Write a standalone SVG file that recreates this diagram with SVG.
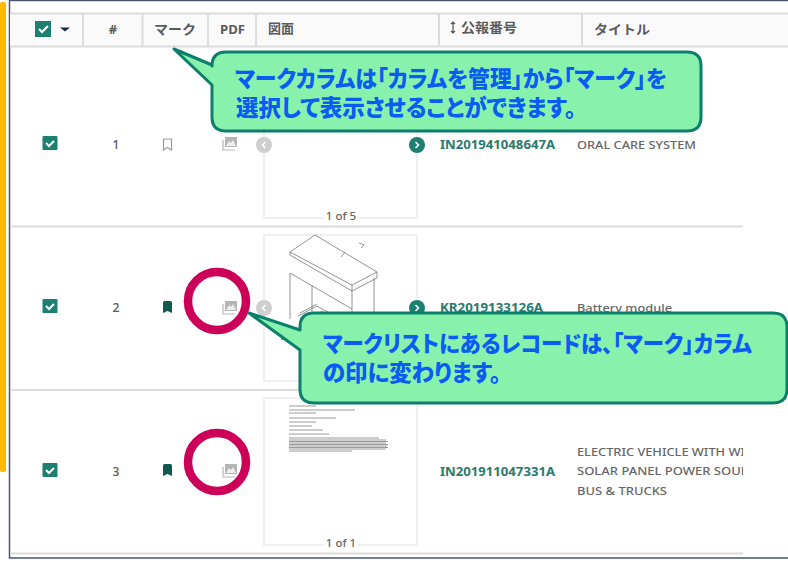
<svg xmlns="http://www.w3.org/2000/svg" width="788" height="562" viewBox="0 0 788 562">
<style>
.hd{font:700 13px "Noto Sans","Noto Sans CJK JP",sans-serif;fill:#5a5a5a}
.num{font:500 12px "Noto Sans",sans-serif;fill:#555;text-anchor:middle}
.pn{font:700 11.5px "Noto Sans",sans-serif;fill:#2a7a6c}
.ti{font:500 11.5px "Noto Sans",sans-serif;fill:#666}
.pg{font:500 11.5px "Noto Sans",sans-serif;fill:#666;text-anchor:middle}
.call{font:900 22.5px "Noto Sans CJK JP",sans-serif;fill:#0b5cf2;font-feature-settings:"palt"}
.bub{fill:#88f2ac;stroke:#0a7f6c;stroke-width:3;stroke-linejoin:round}
.sep{stroke:#dcdcdc;stroke-width:2;fill:none}
.card{fill:#fff;stroke:#f0f0f0;stroke-width:2}
.ring{fill:none;stroke:#cc0058;stroke-width:8.5}
.cb{fill:#1c8071}
.ck{fill:none;stroke:#fff;stroke-width:2}
.mk{fill:#0f5a4d}
.mo{fill:none;stroke:#999;stroke-width:1.2}
.pdf{fill:#b5b5b5}
.pdfb{fill:none;stroke:#b5b5b5;stroke-width:1.2}
.prev{fill:#cfcfcf}
.next{fill:#1c8071}
.chev{fill:none;stroke:#fff;stroke-width:1.5}
.sk{fill:none;stroke:#777;stroke-width:.8}
.dl{stroke:#9a9a9a;fill:none;stroke-width:1}
</style>
<defs>
<clipPath id="clipT"><rect x="570" y="430" width="173" height="80"/></clipPath>
<filter id="soft" x="-5%" y="-5%" width="110%" height="110%"><feGaussianBlur stdDeviation=".35"/></filter>
<g id="pdfI"><rect class="pdf" x="-5" y="-7" width="12" height="10"/><path class="pdfb" d="M-7-4V6H5"/><path d="M-4 2l3-5 2 2 2-3 3 6z" fill="#eee"/></g>
<g id="chk"><rect class="cb" x="-7.500" y="-7" width="15" height="14" rx="1"/><path class="ck" d="M-4 0l3 3 5-5"/></g>
<path id="mark" class="mk" d="M-3-6h6q1.500 0 1.500 2V6L0 4-4.500 6V-4q0-2 1.500-2z"/>
<g id="pv"><circle class="prev" r="8"/><path class="chev" d="M1.500-3L-1.500 0 1.500 3"/></g>
<g id="nx"><circle class="next" r="8"/><path class="chev" d="M-1.500-3L1.500 0-1.500 3"/></g>
</defs>
<rect width="788" height="562" fill="#fff"/>
<g id="frame">
<rect x="0" y="2" width="6" height="470" rx="2" fill="#ffb900"/>
<path d="M788 .5H9.500V558H788" fill="none" stroke="#4a5470" stroke-width="1.500"/>
</g>
<g id="header">
<rect x="10" y="13" width="778" height="33" fill="#fafafa"/>
<path class="sep" d="M10 13.500H788M10 46.500H788M83 14V46M142.500 14V46M208 14V46M256 14V46M439 14V46M582 14V46"/>
<rect x="35" y="21" width="16" height="16" fill="#1c8071"/><path class="ck" d="M39 29l3 3 6-6"/>
<path d="M60 27.500h10l-5 4z" fill="#1a2a4a"/>
<text class="hd" x="113" y="34" text-anchor="middle">#</text>
<text class="hd" x="154" y="34" textLength="42" lengthAdjust="spacingAndGlyphs">マーク</text>
<text class="hd" x="220" y="34" textLength="25" lengthAdjust="spacingAndGlyphs" font-size="12">PDF</text>
<text class="hd" x="268" y="33">図面</text>
<path d="M453 22v11M451 24l2-2 2 2M451 31l2 2 2-2" fill="none" stroke="#555" stroke-width="1.200"/>
<text class="hd" x="461" y="32" textLength="56" lengthAdjust="spacingAndGlyphs">公報番号</text>
<text class="hd" x="594" y="34" textLength="56" lengthAdjust="spacingAndGlyphs">タイトル</text>
</g>
<g id="row1">
<use href="#chk" x="50" y="143"/>
<text class="num" x="116" y="149">1</text>
<path class="mo" d="M163.500 139h8v11l-4-2.500-4 2.500z"/>
<use href="#pdfI" x="230" y="144"/>
<rect class="card" x="264" y="130" width="153" height="88"/>
<use href="#pv" x="264" y="145"/>
<use href="#nx" x="417" y="145"/>
<rect x="324" y="209" width="33" height="14" fill="#fff"/>
<text class="pg" x="341" y="220">1 of 5</text>
<text class="pn" x="440" y="149" textLength="115" lengthAdjust="spacingAndGlyphs">IN201941048647A</text>
<text class="ti" x="577" y="149" textLength="119" lengthAdjust="spacingAndGlyphs">ORAL CARE SYSTEM</text>
<path class="sep" d="M10 226.500H743"/>
</g>
<g id="row2">
<use href="#chk" x="50" y="306"/>
<text class="num" x="116" y="312">2</text>
<use href="#mark" x="167.500" y="307"/>
<use href="#pdfI" x="230" y="308"/>
<rect class="card" x="264" y="235" width="153" height="146"/>
<g id="sketch" filter="url(#soft)">
<path class="sk" d="M290 252L315 235 377 272 352 285zM290 252v3l62 36v-6M352 291v18M377 272v6L352 291M290 273l62 36M290 273v46M312 285v35M352 309v12M374 278v36"/>
<path class="sk" d="M359 243l5 2-3 3M345 252l-4 5M298 316l19-10 14 8M300 313l17-9M303 320l20-9"/>
<path d="M281 338h10v2h-10z" fill="#999"/>
</g>
<use href="#pv" x="264" y="308"/>
<use href="#nx" x="417" y="308"/>
<text class="pn" x="440" y="312" textLength="103" lengthAdjust="spacingAndGlyphs">KR2019133126A</text>
<text class="ti" x="577" y="312" textLength="95" lengthAdjust="spacingAndGlyphs">Battery module</text>
<path class="sep" d="M10 390H743" stroke="#ccc"/>
</g>
<g id="row3">
<use href="#chk" x="50" y="470"/>
<text class="num" x="116" y="476">3</text>
<use href="#mark" x="167.500" y="470"/>
<use href="#pdfI" x="230" y="471"/>
<rect class="card" x="264" y="398" width="153" height="147"/>
<g id="doc" filter="url(#soft)">
<path class="dl" d="M289 406h27M289 410h66M289 413h27M289 418h47M289 422h27M289 426h23M289 430h34M289 434h40M289 438h90M289 440h97M289 441.500h99M289 443h97M289 444.500h99M289 446h98M289 447.500h99M289 449h97M289 451h63"/>
</g>
<rect x="324" y="535" width="33" height="14" fill="#fff"/>
<text class="pg" x="341" y="547">1 of 1</text>
<text class="pn" x="440" y="476" textLength="115" lengthAdjust="spacingAndGlyphs">IN201911047331A</text>
<g clip-path="url(#clipT)">
<text class="ti" x="577" y="456" textLength="168" lengthAdjust="spacingAndGlyphs">ELECTRIC VEHICLE WITH WI</text>
<text class="ti" x="577" y="475" textLength="172" lengthAdjust="spacingAndGlyphs">SOLAR PANEL POWER SOUR</text>
<text class="ti" x="577" y="495" textLength="90" lengthAdjust="spacingAndGlyphs">BUS &amp; TRUCKS</text>
</g>
<path class="sep" d="M10 553.500H743"/>
</g>
<g id="connectors">
<circle class="ring" cx="217" cy="301" r="29"/>
<circle class="ring" cx="217" cy="462" r="29"/>
</g>
<g id="callout1">
<path class="bub" d="M174 49L212 65V66Q212 52 226 52H687Q701 52 701 66V117Q701 131 687 131H226Q212 131 212 117V85Z"/>
<text class="call" x="235" y="87" textLength="432" lengthAdjust="spacingAndGlyphs">マークカラムは「カラムを管理」から「マーク」を</text>
<text class="call" x="236" y="116" textLength="340" lengthAdjust="spacingAndGlyphs">選択して表示させることができます。</text>
</g>
<g id="callout2">
<path class="bub" d="M249 313L300 330V327Q300 313 314 313H773Q787 313 787 327V389Q787 403 773 403H314Q300 403 300 389V350Z"/>
<text class="call" x="323" y="352" textLength="429" lengthAdjust="spacingAndGlyphs">マークリストにあるレコードは、「マーク」カラム</text>
<text class="call" x="323" y="381" textLength="178" lengthAdjust="spacingAndGlyphs">の印に変わります。</text>
</g>
</svg>
